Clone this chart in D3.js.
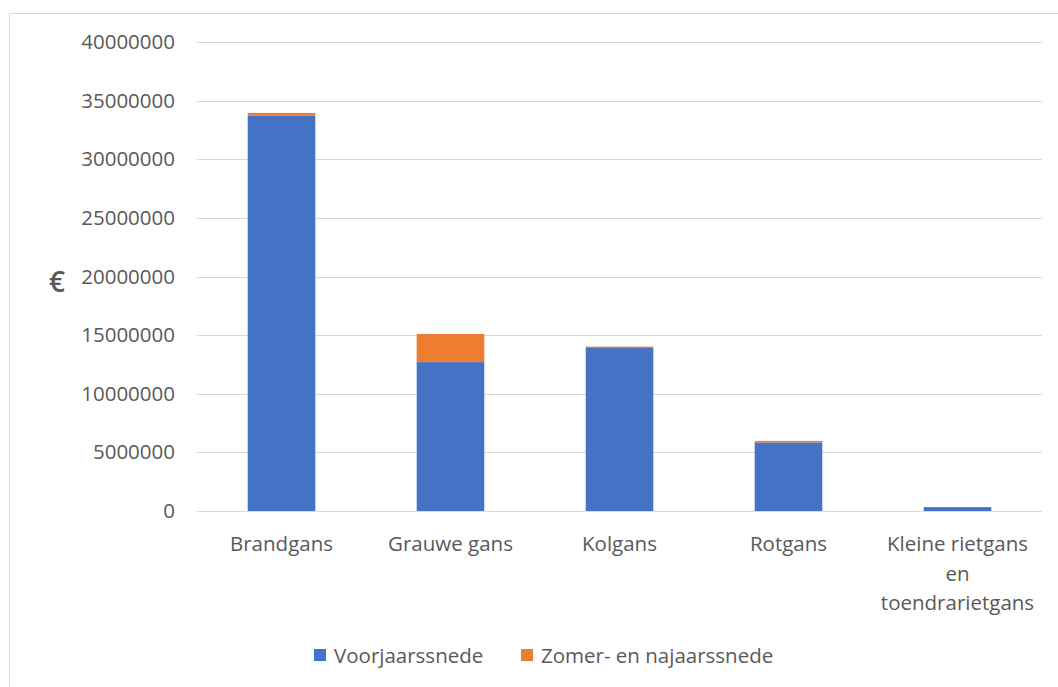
<!DOCTYPE html>
<html>
<head>
<meta charset="utf-8">
<script src="https://cdn.jsdelivr.net/npm/d3@7"></script>
<style>
  body { margin: 0; background: #fff; }
  text { font-family: "Open Sans", "Noto Sans", sans-serif; fill: #595959; }
</style>
</head>
<body>
<div id="chart"></div>
<script>
// Goose species and costs (euro) per mowing period
var categories = ["Brandgans", "Grauwe gans", "Kolgans", "Rotgans", "Kleine rietgans en toendrarietgans"];
var voorjaar = [33700000, 12700000, 13900000, 5850000, 330000];
var zomerNajaar = [250000, 2400000, 120000, 130000, 10000];
var seriesNames = ["Voorjaarssnede", "Zomer- en najaarssnede"];
var yTicks = [0, 5000000, 10000000, 15000000, 20000000, 25000000, 30000000, 35000000, 40000000];

// Category labels wrapped like the original
var labelLines = {
    "Kleine rietgans en toendrarietgans": ["Kleine rietgans", "en", "toendrarietgans"]
};

var colors = ["#4472c4", "#ed7d31"];

var width = 1058, height = 687;

var svg = d3.select("#chart").append("svg")
    .attr("width", width)
    .attr("height", height);

// chart frame
svg.append("rect")
    .attr("x", 9.5)
    .attr("y", 13.5)
    .attr("width", width + 20)
    .attr("height", height + 20)
    .style("fill", "none")
    .style("stroke", "#d9d9d9");

var x = d3.scaleBand()
    .domain(categories)
    .range([197, 1042])
    .paddingInner(0.6)
    .paddingOuter(0.3);

var y = d3.scaleLinear()
    .domain([0, 40000000])
    .range([511, 42]);

// gridlines
svg.append("g").selectAll("line")
    .data(yTicks)
    .enter().append("line")
    .attr("x1", 197)
    .attr("x2", 1042)
    .attr("y1", d => Math.round(y(d)) + 0.5)
    .attr("y2", d => Math.round(y(d)) + 0.5)
    .style("stroke", "#d9d9d9")
    .style("stroke-width", 1);

// y axis labels
var yAxis = d3.axisLeft(y)
    .tickValues(yTicks)
    .tickSize(0)
    .tickPadding(0)
    .tickFormat(d => String(d));

var yg = svg.append("g")
    .attr("transform", "translate(175,0)")
    .call(yAxis);
yg.select(".domain").remove();
yg.selectAll("text")
    .style("font-size", "20.5px")
    .style("fill", "#595959")
    .style("font-family", "'Open Sans', sans-serif");

// euro label
svg.append("text")
    .attr("x", 57)
    .attr("y", 281)
    .attr("text-anchor", "middle")
    .attr("dominant-baseline", "central")
    .style("font-size", "28px")
    .style("font-weight", "600")
    .text("€");

// stacked data
var rows = categories.map(function (c, i) {
    return { cat: c, v0: voorjaar[i], v1: zomerNajaar[i] };
});
var stack = d3.stack().keys(["v0", "v1"]);
var layers = stack(rows);

svg.append("g").selectAll("g")
    .data(layers)
    .enter().append("g")
    .style("fill", (d, i) => colors[i])
    .selectAll("rect")
    .data(d => d)
    .enter().append("rect")
    .attr("x", d => x(d.data.cat))
    .attr("width", x.bandwidth())
    .attr("y", d => y(d[1]))
    .attr("height", d => y(d[0]) - y(d[1]));

// x labels
var xl = svg.append("g").selectAll("text")
    .data(categories)
    .enter().append("text")
    .attr("x", d => x(d) + x.bandwidth() / 2)
    .attr("y", 551)
    .attr("text-anchor", "middle")
    .style("font-size", "20.5px");

xl.each(function (d) {
    var lines = labelLines[d] || [d];
    var t = d3.select(this);
    lines.forEach(function (l, i) {
        t.append("tspan")
            .attr("x", x(d) + x.bandwidth() / 2)
            .attr("dy", i === 0 ? 0 : 29.5)
            .text(l);
    });
});

// legend
var legendX = [314, 521];
var legend = svg.append("g").selectAll("g")
    .data(seriesNames)
    .enter().append("g")
    .attr("transform", (d, i) => "translate(" + legendX[i] + ",649)");

legend.append("rect")
    .attr("width", 12)
    .attr("height", 12)
    .style("fill", (d, i) => colors[i]);

legend.append("text")
    .attr("x", 20)
    .attr("y", 6)
    .attr("dominant-baseline", "central")
    .style("font-size", "20.5px")
    .text(d => d);
</script>
</body>
</html>
